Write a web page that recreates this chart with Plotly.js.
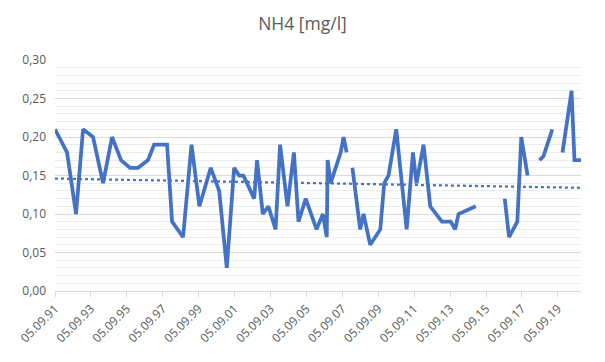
<!DOCTYPE html>
<html>
<head>
<meta charset="utf-8">
<script src="https://cdn.plot.ly/plotly-3.0.1.min.js"></script>
<style>html,body{margin:0;padding:0;background:#fff;}#chart{width:605px;height:362px;}</style>
</head>
<body>
<div id="chart"></div>
<script>
// Sampling dates (null value = gap in the record)
const dates = [
  "1991-09-05","1992-05-07","1992-11-06","1993-03-28","1993-10-18","1994-05-09","1994-11-09",
  "1995-05-10","1995-11-09","1996-04-20","1996-11-10","1997-03-12","1997-12-01","1998-03-13",
  "1998-10-23","1999-04-12","1999-09-20","2000-05-08","2000-10-26","2001-03-30","2001-08-26",
  "2001-12-06","2002-03-03","2002-10-08","2002-12-06","2003-04-01","2003-07-24","2003-12-17",
  "2004-03-18","2004-08-15","2004-12-24","2005-03-27","2005-08-21","2006-03-29","2006-08-05",
  "2006-10-23","2006-11-10","2007-01-11","2007-08-03","2007-10-01","2007-12-01",
  "2008-02-01",
  "2008-03-28","2008-09-02","2008-11-09","2009-03-25","2009-10-15","2010-01-04","2010-04-01",
  "2010-09-05","2011-04-05","2011-08-11","2011-10-23","2012-03-14","2012-07-28","2013-03-22",
  "2013-09-17","2013-12-17","2014-02-23","2015-02-09",
  "2016-01-01",
  "2016-09-20","2016-12-16","2017-06-03","2017-08-22","2017-12-28",
  "2018-04-01",
  "2018-08-28","2018-11-17","2019-05-15",
  "2019-09-01",
  "2019-12-09","2020-06-10","2020-08-08","2020-12-19"
];
const nh4 = [
  0.21,0.18,0.10,0.21,0.20,0.14,0.20,
  0.17,0.16,0.16,0.17,0.19,0.19,0.09,
  0.07,0.19,0.11,0.16,0.13,0.03,0.16,
  0.15,0.15,0.12,0.17,0.10,0.11,0.08,
  0.19,0.11,0.18,0.09,0.12,0.08,0.10,
  0.07,0.17,0.14,0.18,0.20,0.18,
  null,
  0.16,0.08,0.10,0.06,0.08,0.14,0.15,
  0.21,0.08,0.18,0.14,0.19,0.11,0.09,
  0.09,0.08,0.10,0.11,
  null,
  0.12,0.07,0.09,0.20,0.15,
  null,
  0.17,0.175,0.21,
  null,
  0.18,0.26,0.17,0.17
];
// Linear trend line end points
const trendDates = ["1991-09-05","2020-12-19"];
const trendValues = [0.146, 0.134];
const yTickVals = [0,0.05,0.10,0.15,0.20,0.25,0.30];

const blue = "#4472C4";
const data = [
  {x: dates, y: nh4, type: "scatter", mode: "lines", connectgaps: false,
   line: {color: blue, width: 3.75}, hoverinfo: "x+y"},
  {x: trendDates, y: trendValues, type: "scatter", mode: "lines",
   line: {color: blue, width: 2.25, dash: "dot"}}
];
const layout = {
  width: 605, height: 362,
  margin: {l: 55, r: 24, t: 60, b: 71},
  paper_bgcolor: "#fff", plot_bgcolor: "#fff",
  showlegend: false,
  separators: ", ",
  font: {family: "Open Sans, Liberation Sans, sans-serif", color: "#595959", size: 12},
  title: {text: "NH4 [mg/l]", x: 0.5, xanchor: "center", y: 0.935, yanchor: "middle",
          font: {size: 17.5, color: "#595959", family: "Open Sans, Liberation Sans, sans-serif"}},
  xaxis: {
    type: "date",
    range: ["1991-09-05", "2020-12-19"],
    tick0: "1991-09-05", dtick: "M24",
    tickformat: "%d.%m.%y",
    tickangle: -45,
    ticks: "outside", ticklen: 5, tickcolor: "#d9d9d9",
    showgrid: false, zeroline: false,
    showline: true, linecolor: "#d9d9d9", linewidth: 1,
    tickfont: {size: 12, color: "#595959"}
  },
  yaxis: {
    range: [0, 0.30],
    tickvals: yTickVals,
    tickformat: ".2f",
    showgrid: true, gridcolor: "#d9d9d9", gridwidth: 1,
    zeroline: false, showline: false, ticks: "",
    ticklabelstandoff: 8,
    minor: {dtick: 0.01, tick0: 0, showgrid: true, gridcolor: "#ececec", gridwidth: 1},
    tickfont: {size: 12, color: "#595959"}
  }
};
Plotly.newPlot("chart", data, layout, {displayModeBar: false, staticPlot: true});
</script>
</body>
</html>
